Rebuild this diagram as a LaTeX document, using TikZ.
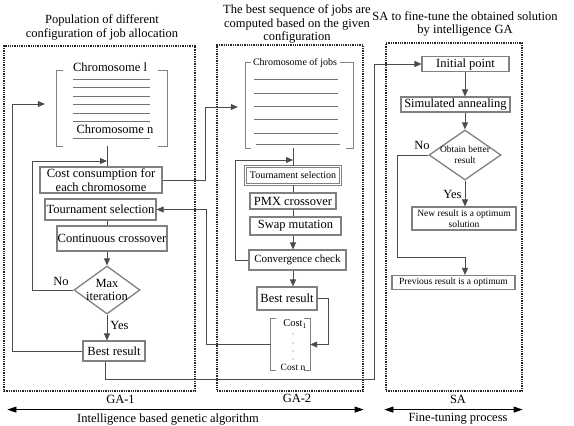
\documentclass[tikz,border=0pt]{standalone}
\usepackage{fontspec}
\setmainfont{Liberation Serif}
\usetikzlibrary{positioning,calc,arrows.meta,shapes.geometric}

\begin{document}
\begin{tikzpicture}[x=1pt, y=-1pt,
  txt/.style={font=\fontsize{12.5}{13.5}\selectfont, align=center, inner sep=0pt},
  small/.style={font=\fontsize{9.5}{11}\selectfont, align=center, inner sep=0pt},
  box/.style={draw=black!50, line width=1.1pt, fill=white, inner sep=0pt, align=center,
              font=\fontsize{12.5}{13.5}\selectfont},
  zone/.style={draw=black!85, line width=1.2pt, dash pattern=on 1.3pt off 1pt, inner sep=0pt},
  link/.style={draw=black!70, line width=0.8pt},
  arr/.style={link, -{Triangle[length=7pt,width=6pt]}},
  brk/.style={draw=black!50, line width=1pt},
  row/.style={draw=black!55, line width=0.9pt},
  dec/.style={diamond, draw=black!50, line width=1.3pt, fill=white, inner sep=0pt}
]
\useasboundingbox (0,0) rectangle (574,426);

% the three dotted stages
\node[zone, minimum width=191pt, minimum height=345pt] (ga1zone) at (99.5,218.5) {};
\node[zone, minimum width=146pt, minimum height=346pt] (ga2zone) at (290,218) {};
\node[zone, minimum width=136pt, minimum height=348pt] (sazone) at (454,217) {};

% titles
\node[txt] (ga1title) at (102,27.5) {Population of different\\configuration of job allocation};
\node[txt] (ga2title) at (297,24) {The best sequence of jobs are\\computed based on the given\\configuration};
\node[txt] (satitle) at (465,24) {SA to fine-tune the obtained solution\\by intelligence GA};

% GA-1: population
\node (pop1) [minimum width=110pt, minimum height=75pt, inner sep=0pt] at (112,108.5) {};
\draw[brk] ([xshift=6pt]pop1.north west) -| (pop1.south west) -- ++(6,0);
\draw[brk] ([xshift=-9pt]pop1.north east) -| (pop1.south east) -- ++(-9,0);
\foreach \y in {79,87,96,104,113,121,138}
  \draw[row] (73,\y) -- (150,\y);
\node[txt, fill=white, inner xsep=2pt] (chr1) at (110,67) {Chromosome l};
\node[txt] (chrn) at (115,129.5) {Chromosome n};

\coordinate (col1) at (107,0);
\node[box, minimum width=122pt, minimum height=26pt] (cost1) at (101,180) {Cost consumption for\\each chromosome};
\node[box, minimum width=111pt, minimum height=21pt] (tour1) at (100.5,209.5) {Tournament selection};
\node[box, minimum width=110pt, minimum height=25pt] (cross1) at (112,238.5) {Continuous crossover};
\node[dec, minimum width=66pt, minimum height=48pt,
      label={[txt]center:Max\\iteration}] (max1) at (107,290) {};
\node[box, minimum width=62pt, minimum height=20pt] (best1) at (114,351) {Best result};

\coordinate (join1) at (107,161);
\draw[link] (pop1.south -| col1) -- (cost1.north -| col1);
\draw[link] (tour1.south -| col1) -- (cross1.north -| col1);
\draw[arr] (cross1.south -| col1) -- (max1.north);
\draw[arr] (max1.south) -- (best1.north -| col1) node[txt, pos=0.4, right=3pt] {Yes};
\draw[arr] (max1.west) -- node[txt, pos=0.3, above=4pt] {No} (32,290) |- (join1);
\draw[arr] (best1.west) -- (12,351) |- ([xshift=-12pt,yshift=4.5pt]pop1.west);

% GA-2: sequence of jobs
\node (pop2) [minimum width=107pt, minimum height=85pt, inner sep=0pt] at (299.5,105.5) {};
\draw[brk] ([xshift=5pt]pop2.north west) -| (pop2.south west) -- ++(5,0);
\draw[brk] ([xshift=-13pt]pop2.north east) -| (pop2.south east) -- ++(-7,0);
\foreach \y in {79,93,106,119,133}
  \draw[row] (254,\y) -- (338,\y);
\draw[row] (256,144) -- (340,144);
\node[txt, font=\fontsize{10}{11}\selectfont, fill=white, inner xsep=2pt] (chrjobs) at (295,63) {Chromosome of jobs};

\coordinate (col2) at (293,0);
\node[box, double=white, double distance=1.1pt, line width=0.9pt, minimum width=95pt, minimum height=18pt,
      font=\fontsize{10}{11}\selectfont] (tour2) at (293,175.5) {Tournament selection};
\node[box, minimum width=86pt, minimum height=16pt] (pmx2) at (293,201) {PMX crossover};
\node[box, minimum width=91pt, minimum height=18pt] (swap2) at (295.5,226) {Swap mutation};
\node[box, minimum width=97pt, minimum height=20pt, font=\fontsize{11}{12}\selectfont] (conv2) at (297.5,260) {Convergence check};
\node[box, minimum width=60pt, minimum height=23pt] (best2) at (287,298.5) {Best result};
\node (cost2) [minimum width=39pt, minimum height=51pt, inner sep=0pt] at (290.5,344.5) {};
\draw[brk] ([xshift=5pt]cost2.north west) -| (cost2.south west) -- ++(5,0);
\draw[brk] ([xshift=-6pt]cost2.north east) -| (cost2.south east) -- ++(-6,0);
\node[txt, font=\fontsize{10.5}{11}\selectfont] (costa) at (295,324) {Cost\textsubscript{1}};
\node[txt, font=\fontsize{9.5}{11}\selectfont] (costn) at (293,367) {Cost n};
\foreach \y in {334,343,351,359}
  \fill[black!60] (293,\y) circle (0.6pt);

\coordinate (join2) at (293,160);
\draw[link] (pop2.south -| col2) -- (tour2.north);
\draw[link] (tour2.south) -- (pmx2.north);
\draw[link] (pmx2.south) -- (swap2.north -| col2);
\draw[arr] (swap2.south -| col2) -- (conv2.north -| col2);
\draw[arr] (conv2.south -| col2) -- (best2.north -| col2);
\draw[arr] (conv2.west) -- (235,260) |- (join2);
\draw[arr] (best2.east) -- (328,298.5) |- (cost2.east);

% GA-1 <-> GA-2
\draw[arr] (cost1.east) -- (205,180) |- ([xshift=-8pt,yshift=-1.5pt]pop2.west);
\draw[arr] (cost2.west) -- (206,344.5) |- (tour1.east);

% SA: fine tuning
\coordinate (col3) at (465,0);
\node[box, minimum width=87pt, minimum height=15pt] (init) at (465.5,64) {Initial point};
\node[box, minimum width=109pt, minimum height=15pt] (sim) at (455.5,104.5) {Simulated annealing};
\node[dec, minimum width=72pt, minimum height=50pt,
      label={[small]center:Obtain better\\result}] (better) at (465,155) {};
\node[box, small, minimum width=104pt, minimum height=23pt] (newres) at (464,218.5) {New result is a optimum\\solution};
\node[box, small, minimum width=123pt, minimum height=14pt] (prev) at (453.5,282.5) {Previous result is a optimum};

\draw[arr] (init.south -| col3) -- (sim.north -| col3);
\draw[arr] (sim.south -| col3) -- (better.north);
\draw[arr] (better.south) -- (newres.north -| col3) node[txt, pos=0.55, left=3pt] {Yes};
\draw[arr] (better.west) -- node[txt, pos=0.2, above=5pt] {No} (397,155)
  |- (465,257) -- (prev.north -| col3);

% GA-1 -> SA
\draw[arr] ([xshift=-9pt]best1.south) |- (374,379) |- (init.west);

% stage labels
\node[txt, below=3pt of ga1zone.south, xshift=21pt] (ga1lab) {GA-1};
\node[txt, below=2pt of ga2zone.south, xshift=7pt] (ga2lab) {GA-2};
\node[txt, below=3pt of sazone.south, xshift=4pt] (salab) {SA};
\coordinate (gaa) at ([xshift=4pt,yshift=-18pt]ga1zone.south west);
\coordinate (gab) at ([yshift=-18pt]ga2zone.south east);
\coordinate (saa) at ([xshift=-1pt,yshift=-18pt]sazone.south west);
\coordinate (sab) at ([yshift=-18pt]sazone.south east);
\draw[link, draw=black, {Triangle[length=9pt,width=6pt]}-{Triangle[length=9pt,width=6pt]}] (gaa) -- (gab);
\draw[link, draw=black, {Triangle[length=9pt,width=6pt]}-{Triangle[length=9pt,width=6pt]}] (saa) -- (sab);
\node[txt] (galab) at (168,420) {Intelligence based genetic algorithm};
\node[txt] (falab) at (458,419) {Fine-tuning process};
\end{tikzpicture}
\end{document}
